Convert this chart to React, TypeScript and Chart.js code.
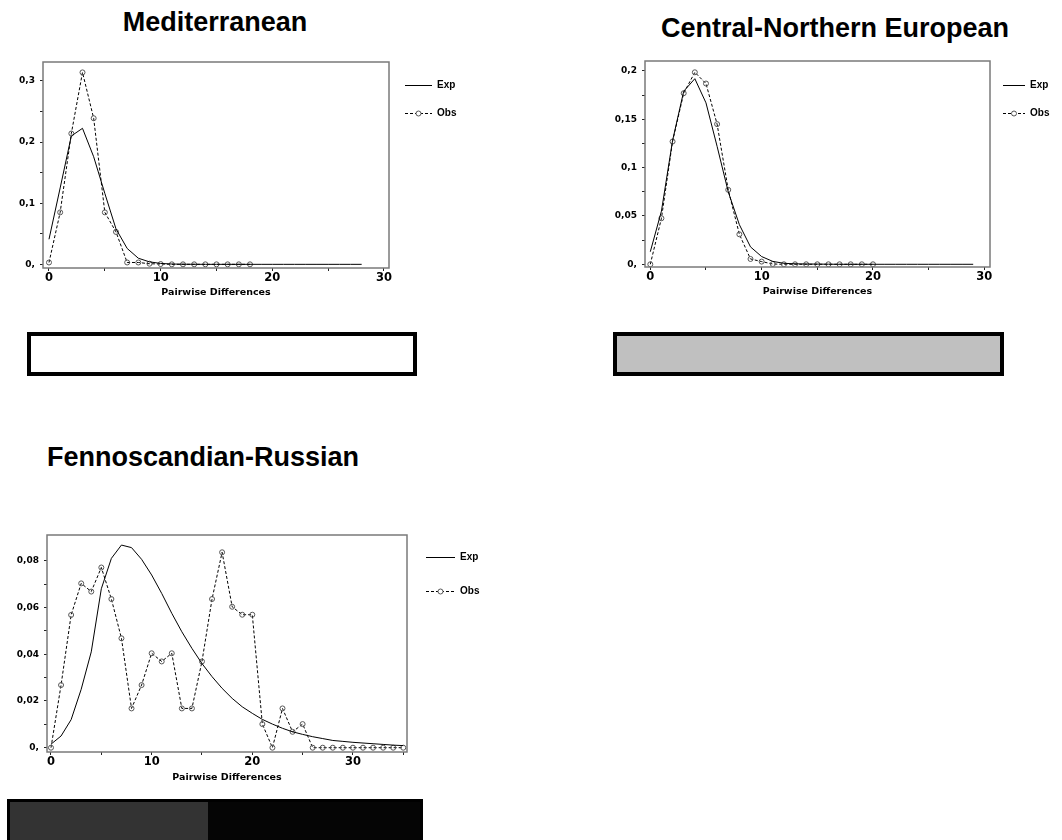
import React, { useEffect, useRef } from 'react';
import { Chart, registerables } from 'chart.js';

Chart.register(...registerables);

// ---------- data ----------
const seriesLabels = ['Exp', 'Obs'];

const medExp = [0.041, 0.125, 0.21, 0.2225, 0.176, 0.116, 0.058, 0.026, 0.01, 0.004, 0.0015, 0.0005, 0.0002, 0.0001, 0, 0, 0, 0, 0, 0, 0, 0, 0, 0, 0, 0, 0, 0, 0];
const medObs = [0.003, 0.085, 0.214, 0.314, 0.239, 0.085, 0.053, 0.003, 0.003, 0.001, 0.0005, 0, 0, 0, 0, 0, 0, 0, 0];

const cneExp = [0.013, 0.055, 0.128, 0.179, 0.192, 0.167, 0.122, 0.075, 0.041, 0.018, 0.008, 0.003, 0.001, 0.0005, 0.0003, 0.0002, 0.0001, 0, 0, 0, 0, 0, 0, 0, 0, 0, 0, 0, 0, 0];
const cneObs = [0, 0.0476, 0.127, 0.177, 0.1986, 0.187, 0.145, 0.077, 0.031, 0.0055, 0.0028, 0.0003, 0, 0, 0, 0, 0, 0, 0, 0, 0];

const frExp = [0.0015, 0.005, 0.012, 0.025, 0.041, 0.068, 0.081, 0.0867, 0.0856, 0.0806, 0.0739, 0.066, 0.0575, 0.0496, 0.0425, 0.036, 0.0304, 0.0254, 0.0211, 0.0175, 0.0147, 0.0121, 0.0101, 0.0083, 0.0068, 0.0057, 0.0047, 0.0039, 0.0031, 0.0027, 0.0023, 0.002, 0.0017, 0.0014, 0.0011, 0.0009];
const frObs = [0, 0.0268, 0.0568, 0.0703, 0.0668, 0.0771, 0.0636, 0.0468, 0.0168, 0.0268, 0.0404, 0.0369, 0.0404, 0.0168, 0.0168, 0.0369, 0.0636, 0.0836, 0.0603, 0.0569, 0.0569, 0.0101, 0, 0.0168, 0.0068, 0.0101, 0, 0, 0, 0, 0, 0, 0, 0, 0, 0];

const xTicks30 = [0, 5, 10, 15, 20, 25, 30];
const xLabels30 = ['0', '', '10', '', '20', '', '30'];
const xTicks35 = [0, 5, 10, 15, 20, 25, 30, 35];
const xLabels35 = ['0', '', '10', '', '20', '', '30', ''];

const medYTicks = [0, 0.05, 0.1, 0.15, 0.2, 0.25, 0.3];
const medYLabels = ['0,', '', '0,1', '', '0,2', '', '0,3'];
const cneYTicks = [0, 0.025, 0.05, 0.075, 0.1, 0.125, 0.15, 0.175, 0.2];
const cneYLabels = ['0,', '', '0,05', '', '0,1', '', '0,15', '', '0,2'];
const frYTicks = [0, 0.01, 0.02, 0.03, 0.04, 0.05, 0.06, 0.07, 0.08];
const frYLabels = ['0,', '', '0,02', '', '0,04', '', '0,06', '', '0,08'];

const xTitle = 'Pairwise Differences';
const titles = ['Mediterranean', 'Central-Northern European', 'Fennoscandian-Russian'];

// ---------- plugins ----------
const framePlugin = {
  id: 'frame',
  afterDatasetsDraw(chart: any) {
    const { ctx, chartArea } = chart;
    ctx.save();
    ctx.strokeStyle = '#7a7a7a';
    ctx.lineWidth = 1.5;
    ctx.strokeRect(chartArea.left, chartArea.top, chartArea.right - chartArea.left, chartArea.bottom - chartArea.top);
    ctx.restore();
  },
};

const sideLegendPlugin = {
  id: 'sideLegend',
  afterDraw(chart: any, _args: any, opts: any) {
    const { ctx, chartArea } = chart;
    const x0 = chartArea.right + opts.dx;
    chart.data.datasets.forEach((ds: any, i: number) => {
      const y = Math.round(chartArea.top + opts.dy0 + i * opts.step) + 0.5;
      ctx.save();
      ctx.strokeStyle = '#000';
      ctx.lineWidth = 1;
      ctx.setLineDash(ds.borderDash || []);
      ctx.beginPath();
      ctx.moveTo(x0, y);
      ctx.lineTo(x0 + opts.len, y);
      ctx.stroke();
      ctx.setLineDash([]);
      if (ds.pointRadius > 0) {
        ctx.beginPath();
        ctx.fillStyle = '#fff';
        ctx.strokeStyle = '#555';
        ctx.arc(x0 + opts.len / 2, y, ds.pointRadius, 0, Math.PI * 2);
        ctx.fill();
        ctx.stroke();
      }
      ctx.fillStyle = '#000';
      ctx.font = 'bold 10px "Liberation Sans", Arial, sans-serif';
      ctx.textBaseline = 'middle';
      ctx.textAlign = 'left';
      ctx.fillText(ds.label, x0 + opts.len + 5, y);
      ctx.restore();
    });
  },
};

type PanelProps = {
  left: number; top: number; width: number; height: number;
  exp: number[]; obs: number[];
  xTicks: number[]; xLabels: string[];
  yTicks: number[]; yLabels: string[];
  xMin: number; xMax: number; yMin: number; yMax: number;
  yW: number; xH: number; padTop: number; padRight: number; titlePad: number;
  legend: { dx: number; dy0: number; step: number; len: number };
};

function Panel(p: PanelProps) {
  const ref = useRef<HTMLCanvasElement | null>(null);
  useEffect(() => {
    if (!ref.current) return;
    const tickGrid = { display: true, drawOnChartArea: false, drawTicks: true, tickLength: 3, color: '#222', lineWidth: 1 };
    const chart = new Chart(ref.current, {
      type: 'line',
      data: {
        datasets: [
          {
            label: seriesLabels[0],
            data: p.exp.map((v, i) => ({ x: i, y: v })),
            borderColor: '#000',
            borderWidth: 1,
            pointRadius: 0,
            tension: 0,
            fill: false,
          },
          {
            label: seriesLabels[1],
            data: p.obs.map((v, i) => ({ x: i, y: v })),
            borderColor: '#000',
            borderWidth: 1,
            borderDash: [3, 2],
            pointRadius: 2.5,
            pointBorderWidth: 1,
            pointBorderColor: '#555',
            pointBackgroundColor: 'rgba(255,255,255,0)',
            tension: 0,
            fill: false,
          },
        ],
      },
      options: {
        animation: false,
        responsive: false,
        devicePixelRatio: 1,
        layout: { padding: { left: 0, top: p.padTop, right: p.padRight, bottom: 0 } },
        plugins: {
          legend: { display: false },
          tooltip: { enabled: false },
          sideLegend: p.legend,
        } as any,
        scales: {
          x: {
            type: 'linear',
            min: p.xMin,
            max: p.xMax,
            afterBuildTicks: (s: any) => { s.ticks = p.xTicks.map((v) => ({ value: v })); },
            afterFit: (s: any) => { s.height = p.xH; },
            ticks: {
              autoSkip: false,
              maxRotation: 0,
              padding: 0,
              color: '#000',
              font: { family: '"DejaVu Sans", sans-serif', weight: 'bold', size: 11.5 },
              callback: (_v: any, i: number) => p.xLabels[i],
            },
            grid: tickGrid,
            border: { display: false },
            title: {
              display: true,
              text: xTitle,
              color: '#000',
              font: { family: '"DejaVu Sans", sans-serif', weight: 'bold', size: 9.5 },
              padding: { top: 0, bottom: p.titlePad },
            },
          },
          y: {
            type: 'linear',
            min: p.yMin,
            max: p.yMax,
            afterBuildTicks: (s: any) => { s.ticks = p.yTicks.map((v) => ({ value: v })); },
            afterFit: (s: any) => { s.width = p.yW; },
            ticks: {
              autoSkip: false,
              padding: 5,
              color: '#000',
              font: { family: '"DejaVu Sans", sans-serif', weight: 'bold', size: 9 },
              callback: (_v: any, i: number) => p.yLabels[i],
            },
            grid: tickGrid,
            border: { display: false },
          },
        },
      } as any,
      plugins: [framePlugin, sideLegendPlugin],
    });
    return () => chart.destroy();
  }, []);
  return (
    <div style={{ position: 'absolute', left: p.left, top: p.top, width: p.width, height: p.height }}>
      <canvas ref={ref} width={p.width} height={p.height} style={{ display: 'block' }} />
    </div>
  );
}

const titleStyle: React.CSSProperties = {
  position: 'absolute',
  fontFamily: '"Liberation Sans", Arial, sans-serif',
  fontWeight: 'bold',
  fontSize: 27,
  lineHeight: '27px',
  color: '#000',
  whiteSpace: 'nowrap',
};

export default function App() {
  return (
    <div style={{ position: 'absolute', left: 0, top: 0, width: 1062, height: 840, overflow: 'hidden', background: '#fff' }}>
      <div style={{ ...titleStyle, left: 15, width: 400, top: 9, textAlign: 'center' }}>{titles[0]}</div>
      <div style={{ ...titleStyle, left: 635, width: 400, top: 15, textAlign: 'center' }}>{titles[1]}</div>
      <div style={{ ...titleStyle, left: 47, top: 444 }}>{titles[2]}</div>

      <Panel
        left={0} top={40} width={520} height={270}
        exp={medExp} obs={medObs}
        xTicks={xTicks30} xLabels={xLabels30} yTicks={medYTicks} yLabels={medYLabels}
        xMin={-0.537} xMax={30.448} yMin={-0.006} yMax={0.331}
        yW={43} xH={42} padTop={22} padRight={131} titlePad={12}
        legend={{ dx: 16, dy0: 23, step: 28, len: 27 }}
      />
      <Panel
        left={600} top={40} width={462} height={270}
        exp={cneExp} obs={cneObs}
        xTicks={xTicks30} xLabels={xLabels30} yTicks={cneYTicks} yLabels={cneYLabels}
        xMin={-0.476} xMax={30.51} yMin={-0.0028} yMax={0.2103}
        yW={45} xH={43} padTop={21} padRight={72} titlePad={13}
        legend={{ dx: 13, dy0: 24, step: 28, len: 22 }}
      />
      <Panel
        left={0} top={515} width={520} height={284}
        exp={frExp} obs={frObs}
        xTicks={xTicks35} xLabels={xLabels35} yTicks={frYTicks} yLabels={frYLabels}
        xMin={-0.397} xMax={35.37} yMin={-0.00184} yMax={0.091}
        yW={47} xH={47} padTop={20} padRight={113} titlePad={16}
        legend={{ dx: 19, dy0: 22, step: 34, len: 29 }}
      />

      <div style={{ position: 'absolute', left: 27, top: 332, width: 390, height: 44, boxSizing: 'border-box', border: '4px solid #000', background: '#fff' }} />
      <div style={{ position: 'absolute', left: 613, top: 332, width: 391, height: 44, boxSizing: 'border-box', border: '4px solid #000', background: '#c0c0c0' }} />
      <div style={{ position: 'absolute', left: 7, top: 799, width: 416, height: 60, boxSizing: 'border-box', border: '3px solid #000', background: '#050505' }}>
        <div style={{ position: 'absolute', left: 0, top: 0, width: 198, height: 60, background: '#333333' }} />
      </div>
    </div>
  );
}
